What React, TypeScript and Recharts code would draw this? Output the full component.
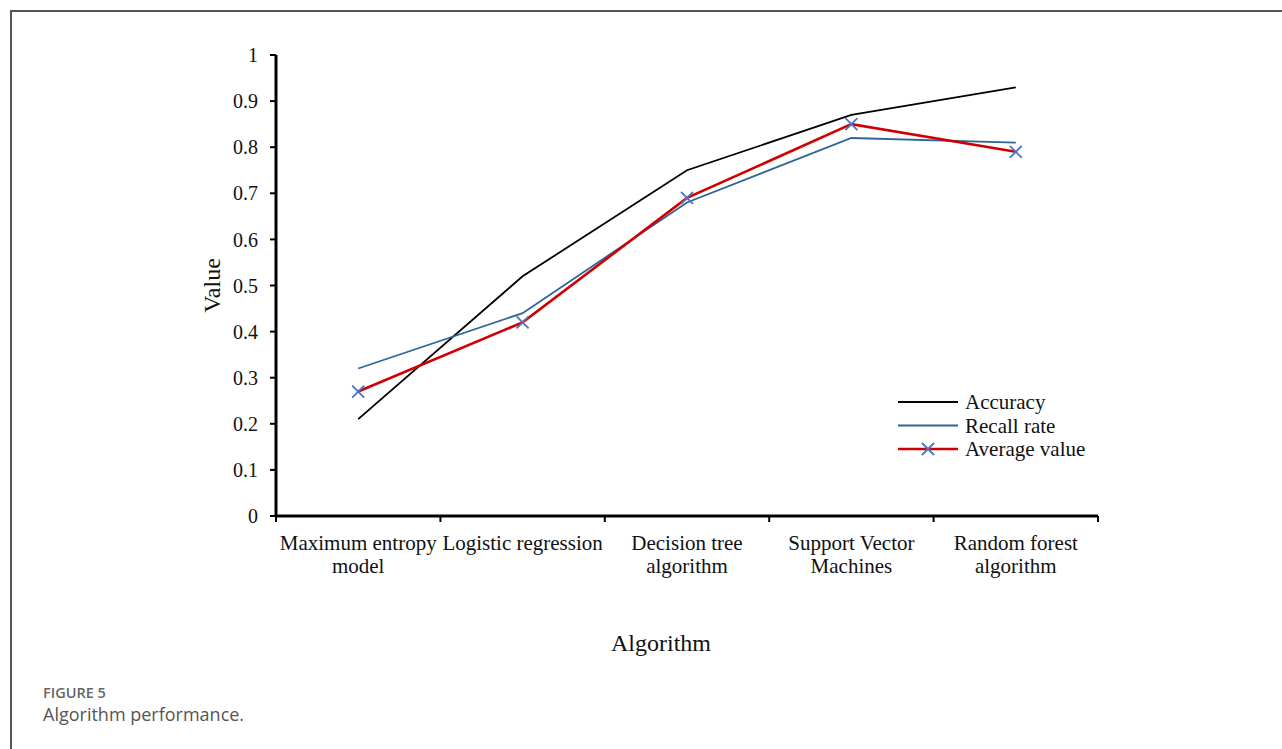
import { LineChart, Line, XAxis, YAxis, Legend } from "recharts";

// Values
const categories = [
  "Maximum entropy\nmodel",
  "Logistic regression",
  "Decision tree\nalgorithm",
  "Support Vector\nMachines",
  "Random forest\nalgorithm",
];
const accuracy = [0.21, 0.52, 0.75, 0.87, 0.93];
const recallRate = [0.32, 0.44, 0.68, 0.82, 0.81];
const averageValue = [0.27, 0.42, 0.69, 0.85, 0.79];
const yTicks = [0, 0.1, 0.2, 0.3, 0.4, 0.5, 0.6, 0.7, 0.8, 0.9, 1];
const xBoundaries = [0, 1, 2, 3, 4, 5];
const legendOrder = ["accuracy", "recall", "average"];

const data = categories.map((name, i) => ({
  name,
  pos: i + 0.5,
  accuracy: accuracy[i],
  recall: recallRate[i],
  average: averageValue[i],
}));

const SERIF = '"Liberation Serif", "Times New Roman", serif';
const SANS = '"Open Sans", "Noto Sans", sans-serif';
const CHART_W = 1282;
const CHART_H = 749;
const MARGIN = { top: 55, right: 184, bottom: 93, left: 216 };
const BAND = (CHART_W - MARGIN.left - 60 - MARGIN.right) / categories.length;
const MARKER_COLOR = "#4E72BE";

function crossPath(cx: number, cy: number, r: number) {
  return `M${cx - r},${cy - r}L${cx + r},${cy + r}M${cx - r},${cy + r}L${cx + r},${cy - r}`;
}

function CrossDot(props: any) {
  const { cx, cy, index } = props;
  if (cx == null || cy == null) return <g key={index} />;
  return (
    <path
      key={index}
      d={crossPath(cx, cy, 6)}
      stroke={MARKER_COLOR}
      strokeWidth={1.8}
      fill="none"
    />
  );
}

function CategoryTick(props: any) {
  const { x, y, payload } = props;
  const label = categories[payload.value];
  if (label === undefined) return <g />;
  const lines = label.split("\n");
  const cx = x + BAND / 2;
  return (
    <text x={cx} y={y} textAnchor="middle" fontFamily={SERIF} fontSize={21} fill="#111">
      {lines.map((line, i) => (
        <tspan key={i} x={cx} dy={i === 0 ? 26 : 23}>
          {line}
        </tspan>
      ))}
    </text>
  );
}

function renderLegend(props: any) {
  const items = [...(props.payload || [])].sort(
    (a: any, b: any) => legendOrder.indexOf(a.dataKey) - legendOrder.indexOf(b.dataKey)
  );
  return (
    <svg width={220} height={75}>
      {items.map((entry: any, i: number) => {
        const yc = 13 + i * 23.5;
        const isAvg = entry.dataKey === "average";
        return (
          <g key={entry.value}>
            <line
              x1={3}
              x2={63}
              y1={yc}
              y2={yc}
              stroke={entry.color}
              strokeWidth={isAvg ? 2.6 : 1.8}
            />
            {isAvg && (
              <path d={crossPath(33, yc, 6)} stroke={MARKER_COLOR} strokeWidth={1.8} fill="none" />
            )}
            <text x={70} y={yc + 7} fontFamily={SERIF} fontSize={21} fill="#111">
              {entry.value}
            </text>
          </g>
        );
      })}
    </svg>
  );
}

export default function App() {
  return (
    <div
      style={{
        position: "absolute",
        left: 0,
        top: 0,
        width: CHART_W,
        height: CHART_H,
        background: "#fff",
        overflow: "hidden",
      }}
    >
      <div
        style={{
          position: "absolute",
          left: 10,
          top: 10,
          right: 0,
          bottom: 0,
          borderLeft: "2px solid #555",
          borderTop: "2px solid #555",
        }}
      />
      <div style={{ position: "absolute", left: 0, top: 0 }}>
        <LineChart width={CHART_W} height={CHART_H} data={data} margin={MARGIN}>
          <XAxis
            dataKey="pos"
            type="number"
            domain={[0, 5]}
            ticks={xBoundaries}
            interval={0}
            height={140}
            tick={<CategoryTick />}
            tickSize={6}
            tickMargin={2}
            axisLine={{ stroke: "#000", strokeWidth: 3 }}
            tickLine={{ stroke: "#000", strokeWidth: 2 }}
            label={(p: any) => {
              const vb = p.viewBox;
              return (
                <text
                  x={vb.x + 385}
                  y={vb.y + 135}
                  textAnchor="middle"
                  fontFamily={SERIF}
                  fontSize={24}
                  fill="#111"
                >
                  Algorithm
                </text>
              );
            }}
          />
          <YAxis
            width={60}
            domain={[0, 1]}
            ticks={yTicks}
            interval={0}
            tickFormatter={(v: number) => String(v)}
            tick={{ fontFamily: SERIF, fontSize: 20, fill: "#111" }}
            tickSize={6}
            tickMargin={12}
            axisLine={{ stroke: "#000", strokeWidth: 3 }}
            tickLine={{ stroke: "#000", strokeWidth: 2 }}
            label={(p: any) => {
              const vb = p.viewBox;
              const x = vb.x - 4;
              const y = vb.y + vb.height / 2;
              return (
                <text
                  x={x}
                  y={y}
                  transform={`rotate(-90, ${x}, ${y})`}
                  textAnchor="middle"
                  dominantBaseline="central"
                  fontFamily={SERIF}
                  fontSize={24}
                  fill="#111"
                >
                  Value
                </text>
              );
            }}
          />
          <Legend
            layout="vertical"
            align="center"
            verticalAlign="middle"
            wrapperStyle={{ left: 895, top: 389, width: 220, height: 75 }}
            content={renderLegend}
          />
          <Line
            type="linear"
            dataKey="accuracy"
            name="Accuracy"
            stroke="#000"
            strokeWidth={1.8}
            dot={false}
            activeDot={false}
            isAnimationActive={false}
          />
          <Line
            type="linear"
            dataKey="recall"
            name="Recall rate"
            stroke="#2F6496"
            strokeWidth={1.8}
            dot={false}
            activeDot={false}
            isAnimationActive={false}
          />
          <Line
            type="linear"
            dataKey="average"
            name="Average value"
            stroke="#D00000"
            strokeWidth={2.6}
            dot={<CrossDot />}
            activeDot={false}
            isAnimationActive={false}
          />
        </LineChart>
      </div>
      <div
        style={{
          position: "absolute",
          left: 43,
          top: 684,
          fontFamily: SANS,
          fontSize: 14.5,
          fontWeight: 600,
          color: "#666",
          lineHeight: "18px",
        }}
      >
        FIGURE 5
      </div>
      <div
        style={{
          position: "absolute",
          left: 43,
          top: 703,
          fontFamily: SANS,
          fontSize: 18,
          fontWeight: 400,
          color: "#555",
          lineHeight: "22px",
        }}
      >
        Algorithm performance.
      </div>
    </div>
  );
}
